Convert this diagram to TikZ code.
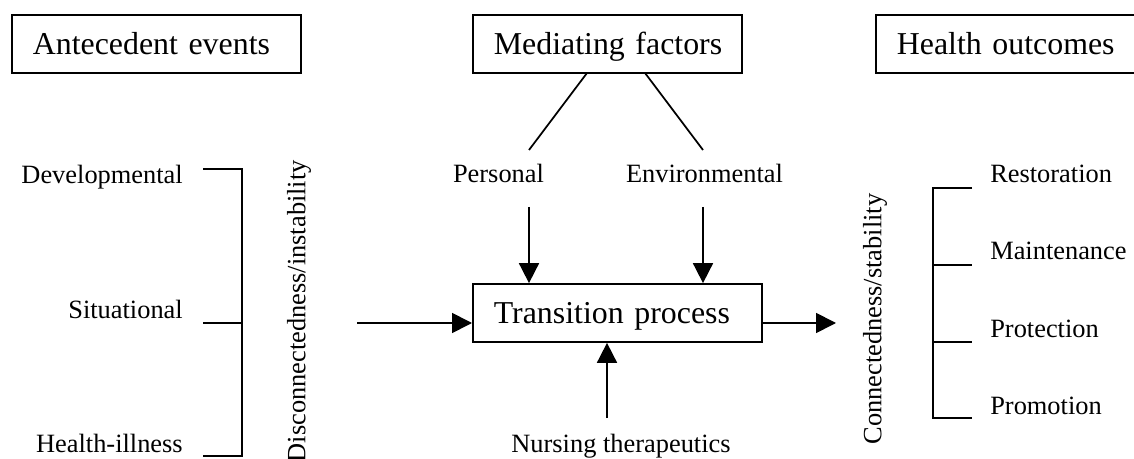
\documentclass[tikz,border=0pt]{standalone}
\usepackage{fontspec}
\setmainfont{Liberation Serif}
\usetikzlibrary{arrows.meta}

\begin{document}
\begin{tikzpicture}[x=0.75pt,y=0.75pt,yscale=-1,xscale=1,
    titlebox/.style={draw, line width=1.3pt, anchor=west, minimum height=43.5pt,
        inner xsep=15.75pt, inner ysep=0pt, text height=15.8pt, text depth=0pt,
        align=left, font=\fontsize{23.9}{28}\selectfont},
    lbl/.style={inner sep=0pt, font=\fontsize{19.8}{24}\selectfont},
    ln/.style={line width=1.3pt},
    arr/.style={line width=1.3pt, -{Triangle[length=15pt,width=15pt]}}]
    \useasboundingbox (0,0) rectangle (1134,459);

    % Boxes
    \node [titlebox, text width=185.25pt] (ante) at (11,44) {\mbox{Antecedent events}};
    \node [titlebox, text width=170.25pt] (med) at (472,44) {\mbox{Mediating factors}};
    \node [titlebox, text width=171pt] (outc) at (875,44) {\mbox{Health outcomes}};
    \node [titlebox, text width=185.25pt] (trans) at (472,313) {\mbox{Transition process}};

    % Text Node
    \node [lbl, anchor=base east] (devel) at (183,184) {Developmental};
    \node [lbl, anchor=base east] (situ) at (183,319) {Situational};
    \node [lbl, anchor=base east] (hill) at (183,452) {Health-illness};
    \node [lbl, rotate=90, anchor=east] (dis) at (299,160) {Disconnectedness/instability};
    \node [lbl, anchor=base] (pers) at (498.5,183) {Personal};
    \node [lbl, anchor=base] (env) at (704.5,183) {Environmental};
    \node [lbl, anchor=base] (nurs) at (621,452) {Nursing therapeutics};
    \node [lbl, rotate=90] (con) at (875,319) {Connectedness/stability};
    \node [lbl, anchor=base west] (rest) at (990,183) {Restoration};
    \node [lbl, anchor=base west] (maint) at (990,260) {Maintenance};
    \node [lbl, anchor=base west] (prot) at (990,337) {Protection};
    \node [lbl, anchor=base west] (prom) at (990,414) {Promotion};

    % Coordinates of the free ends
    \coordinate (medl) at (587,73);
    \coordinate (medr) at (645,73);
    \coordinate (persl) at (529,150);
    \coordinate (envl) at (703,150);
    \coordinate (persa) at (529,207);
    \coordinate (enva) at (703,207);
    \coordinate (nursa) at (607,418);
    \coordinate (dina) at (357,323);
    \coordinate (outa) at (836,323);

    % Mediating factors
    \draw [ln] (medl) -- (persl);
    \draw [ln] (medr) -- (envl);
    \draw [arr] (persa) -- (persa |- trans.north);
    \draw [arr] (enva) -- (enva |- trans.north);
    \draw [arr] (nursa) -- (nursa |- trans.south);

    % In and out of the process
    \draw [arr] (dina) -- (trans.west |- dina);
    \draw [arr] (trans.east |- outa) -- (outa);

    % Left bracket
    \draw [ln] (203,169) -- (242,169) -- (242,456) -- (203,456);
    \draw [ln] (203,323) -- (242,323);

    % Right bracket
    \draw [ln] (972,188) -- (933,188) -- (933,418) -- (972,418);
    \draw [ln] (933,265) -- (972,265);
    \draw [ln] (933,342) -- (972,342);
\end{tikzpicture}
\end{document}
